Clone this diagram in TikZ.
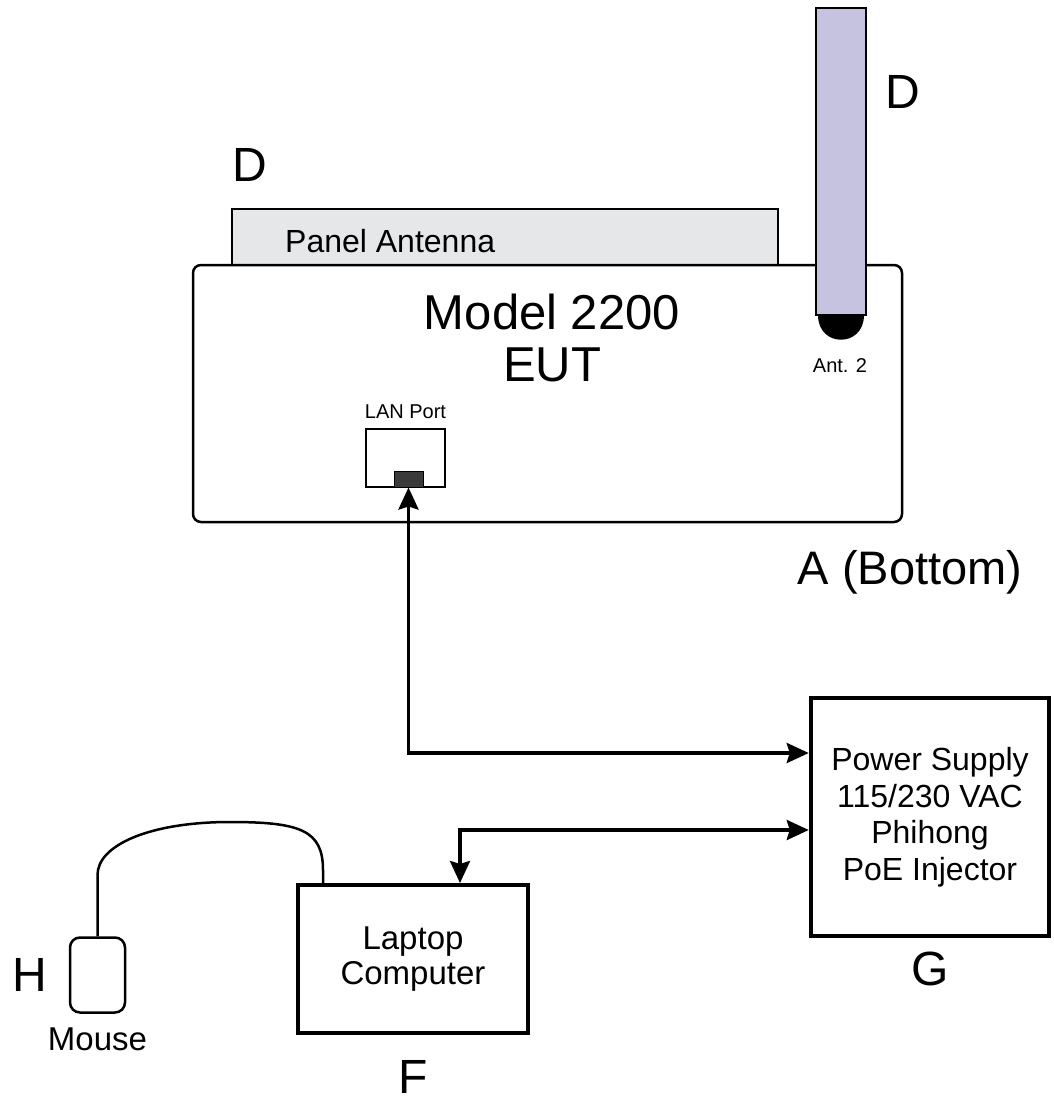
\documentclass[tikz,border=0pt]{standalone}
\usepackage{fontspec}
\setmainfont{Liberation Sans}
\usepackage{tikz}
\usetikzlibrary{arrows.meta, positioning}

\definecolor{antlilac}{HTML}{C5C3E0}
\definecolor{panelgray}{HTML}{E6E7E8}
\definecolor{jackgray}{HTML}{3A3A3A}

\begin{document}
\begin{tikzpicture}[x=1pt, y=-1pt]

\tikzstyle{unit} = [rectangle, inner sep=0pt, text centered, draw=black]
\tikzstyle{letter} = [inner sep=0pt, font=\fontsize{48}{52}\selectfont]
\tikzstyle{small} = [inner sep=0pt, font=\fontsize{20}{23}\selectfont]
\tikzstyle{arrow} = [line width=3.5pt, {Stealth[length=22pt, width=20pt, inset=3pt]}-{Stealth[length=22pt, width=20pt, inset=3pt]}]

\useasboundingbox (0,0) rectangle (1054,1103);

% eut
\node (panel)[unit, fill=panelgray, line width=1.2pt, minimum width=546pt, minimum height=56pt] at (505,237){};
\node (panel_txt)[inner sep=0pt, anchor=west, font=\fontsize{32}{35}\selectfont] at (285,241){Panel Antenna};
\node (eut)[unit, rounded corners=8pt, line width=2.5pt, minimum width=709pt, minimum height=257pt] at (547.5,393.5){};
\node (eut_txt)[inner sep=0pt, align=center, font=\fontsize{49}{52}\selectfont] at (552,338){Model 2200\\EUT};
\node (ant)[unit, fill=antlilac, line width=1.5pt, minimum width=50pt, minimum height=307pt] at (841,161.5){};
\fill (818,315) -- (864,315) .. controls (864,348) and (818,348) .. (818,315) -- cycle;
\node (ant_txt)[small] at (840,366){Ant. 2};

% lan port
\node (lan)[unit, line width=1.5pt, minimum width=79pt, minimum height=58pt] at (405.5,458){};
\node (lan_jack)[unit, fill=jackgray, line width=1pt, minimum width=29pt, minimum height=16pt] at (408.5,479){};
\node (lan_txt)[small, above=9pt of lan]{LAN Port};

% labels
\node (d_ant)[letter] at (903,92){D};
\node (d_panel)[letter] at (250,165){D};
\node (a_bottom)[letter, font=\fontsize{47}{50}\selectfont] at (910,572){A (Bottom)};

% power supply
\node (psu)[unit, line width=4.5pt, align=center, minimum width=238pt, minimum height=238pt,
    font=\fontsize{32}{36.5}\selectfont] at (930,817){Power Supply\\115/230 VAC\\Phihong\\PoE Injector};
\node (g_lbl)[letter, below=14pt of psu]{G};

% laptop
\node (laptop)[unit, line width=4pt, align=center, minimum width=230pt, minimum height=148pt,
    font=\fontsize{33}{35}\selectfont] at (413,959){Laptop\\Computer};
\node (f_lbl)[letter, below=25pt of laptop]{F};

% mouse
\node (mouse)[unit, rounded corners=10pt, line width=2.5pt, minimum width=55pt, minimum height=75pt] at (97.5,975){};
\node (mouse_txt)[inner sep=0pt, font=\fontsize{33}{35}\selectfont, below=14pt of mouse]{Mouse};
\node (h_lbl)[letter, left=21pt of mouse]{H};

% arrows
\draw[arrow] (lan_jack.south) |- ([yshift=64pt]psu.west);
\draw[arrow] ([xshift=47pt]laptop.north) |- ([yshift=-13pt]psu.west);

% mouse cable
\draw[line width=2.5pt] (mouse.north) -- (97.5,875)
    .. controls (97.5,845) and (150,822) .. (230,822)
    .. controls (300,822) and (323,830) .. (323,870) -- (laptop.north west -| 323,0);

\end{tikzpicture}
\end{document}
